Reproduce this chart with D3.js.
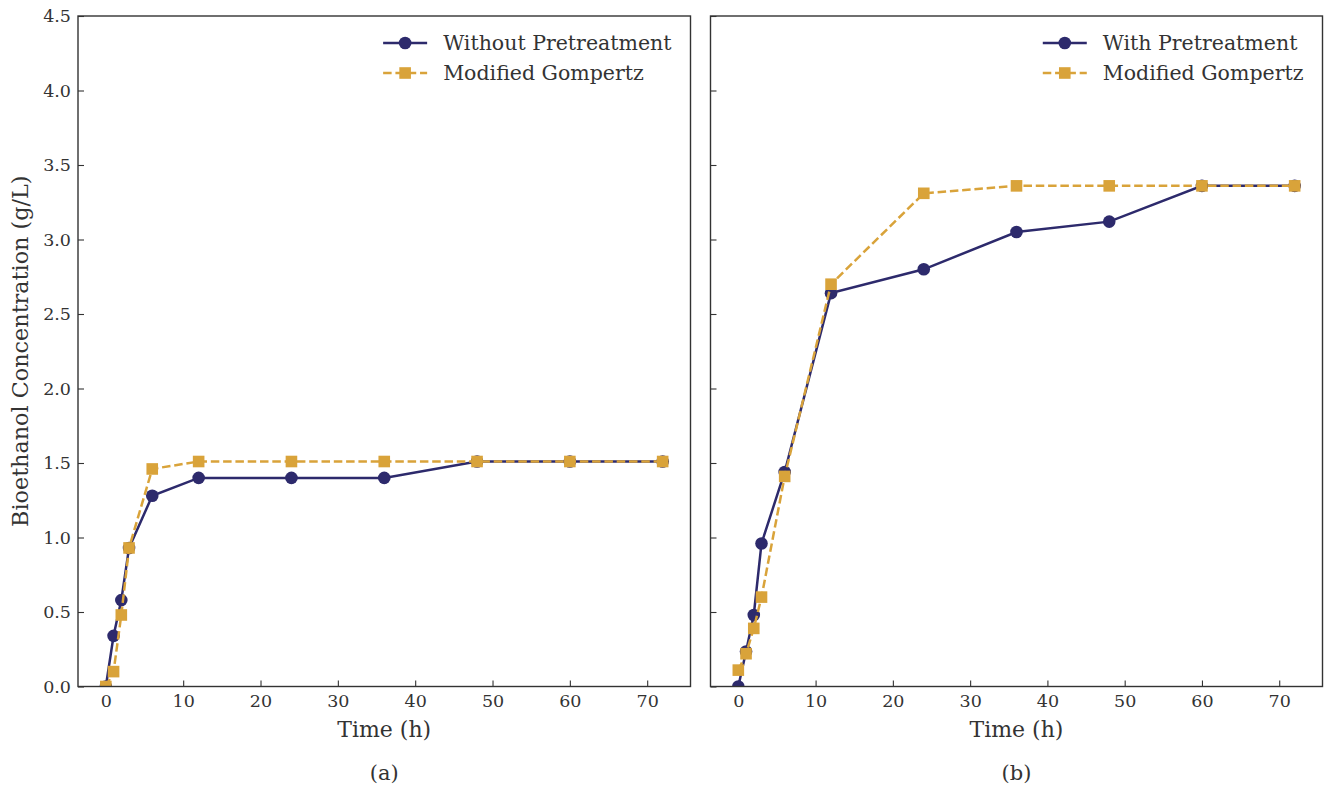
<!DOCTYPE html>
<html>
<head>
<meta charset="utf-8">
<script src="https://cdn.jsdelivr.net/npm/d3@7"></script>
<style>
  body { margin: 0; background: #fff; }
  text { font-family: "DejaVu Serif", serif; }
</style>
</head>
<body>
<svg id="chart" width="1333" height="793"></svg>
<script>
// sampling times (h)
var times = [0, 1, 2, 3, 6, 12, 24, 36, 48, 60, 72];

// panel (a)
var withoutPre = [0, 0.34, 0.58, 0.93, 1.28, 1.40, 1.40, 1.40, 1.51, 1.51, 1.51];
var gompertzA = [0, 0.10, 0.48, 0.93, 1.46, 1.51, 1.51, 1.51, 1.51, 1.51, 1.51];

// panel (b)
var withPre = [0, 0.235, 0.48, 0.96, 1.44, 2.64, 2.80, 3.05, 3.12, 3.36, 3.36];
var gompertzB = [0.11, 0.22, 0.39, 0.60, 1.41, 2.70, 3.31, 3.36, 3.36, 3.36, 3.36];

var xTicks = [0, 10, 20, 30, 40, 50, 60, 70];
var yTicks = [0, 0.5, 1.0, 1.5, 2.0, 2.5, 3.0, 3.5, 4.0, 4.5];

var navy = "#2d2a6c";
var gold = "#d9a33a";

var svg = d3.select("#chart");
var yTop = 16, yBot = 686.5;

var y = d3.scaleLinear().domain([0, 4.5]).range([yBot, yTop]);

var panels = [
  {left: 78, right: 690.5, label: "(a)", name: "Without Pretreatment", obs: withoutPre, fit: gompertzA, yLabels: true},
  {left: 710.5, right: 1322.5, label: "(b)", name: "With Pretreatment", obs: withPre, fit: gompertzB, yLabels: false}
];

panels.forEach(function(p, i) {
    var x = d3.scaleLinear().domain([-3.6, 75.6]).range([p.left, p.right]);
    var g = svg.append("g");

    g.append("clipPath").attr("id", "clip" + i)
      .append("rect")
      .attr("x", p.left).attr("y", yTop)
      .attr("width", p.right - p.left).attr("height", yBot - yTop);

    // x axis, ticks pointing inward
    var xAxis = d3.axisBottom(x).tickValues(xTicks).tickSizeInner(-6).tickSizeOuter(0).tickPadding(8);
    var gx = g.append("g").attr("transform", "translate(0," + yBot + ")").call(xAxis);
    gx.select(".domain").remove();
    gx.selectAll("line").attr("stroke", "#333").attr("stroke-width", 1.1);
    gx.selectAll("text").attr("font-size", 17.5).attr("fill", "#333").attr("font-family", "DejaVu Serif");

    var yAxis = d3.axisLeft(y).tickValues(yTicks).tickSizeInner(-6).tickSizeOuter(0).tickPadding(7)
      .tickFormat(p.yLabels ? d3.format(".1f") : "");
    var gy = g.append("g").attr("transform", "translate(" + p.left + ",0)").call(yAxis);
    gy.select(".domain").remove();
    gy.selectAll("line").attr("stroke", "#333").attr("stroke-width", 1.1);
    gy.selectAll("text").attr("font-size", 17.5).attr("fill", "#333").attr("font-family", "DejaVu Serif");

    var plot = g.append("g").attr("clip-path", "url(#clip" + i + ")");
    var line = d3.line().x(function(d, j) { return x(times[j]); }).y(function(d) { return y(d); });

    plot.append("path").datum(p.obs)
      .attr("d", line).attr("fill", "none")
      .attr("stroke", navy).attr("stroke-width", 2.5);
    plot.selectAll(".dot").data(p.obs).enter().append("circle")
      .attr("cx", function(d, j) { return x(times[j]); })
      .attr("cy", function(d) { return y(d); })
      .attr("r", 6.3).attr("fill", navy);

    plot.append("path").datum(p.fit)
      .attr("d", line).attr("fill", "none")
      .attr("stroke", gold).attr("stroke-width", 2.5)
      .attr("stroke-dasharray", "8.5,3.8");
    plot.selectAll(".sq").data(p.fit).enter().append("rect")
      .attr("x", function(d, j) { return x(times[j]) - 5.8; })
      .attr("y", function(d) { return y(d) - 5.8; })
      .attr("width", 11.6).attr("height", 11.6).attr("fill", gold);

    // frame
    g.append("rect")
      .attr("x", p.left).attr("y", yTop)
      .attr("width", p.right - p.left).attr("height", yBot - yTop)
      .attr("fill", "none").attr("stroke", "#333").attr("stroke-width", 1.4);

    // legend, right aligned
    var items = [
      {name: p.name, color: navy, dash: null, shape: "circle"},
      {name: "Modified Gompertz", color: gold, dash: "8.5,3.8", shape: "square"}
    ];
    var lg = g.append("g");
    var labels = items.map(function(it, k) {
        return lg.append("text").attr("y", 43 + k * 30).attr("dy", "0.35em")
          .attr("font-size", 20.5).attr("fill", "#333").text(it.name);
    });
    var maxW = d3.max(labels, function(t) { return t.node().getComputedTextLength(); });
    var lx = p.right - 19 - maxW - 60;
    items.forEach(function(it, k) {
        var ly = 43 + k * 30;
        labels[k].attr("x", lx + 60);
        lg.append("line").attr("x1", lx).attr("x2", lx + 44).attr("y1", ly).attr("y2", ly)
          .attr("stroke", it.color).attr("stroke-width", 2.5).attr("stroke-dasharray", it.dash);
        if (it.shape == "circle") {
            lg.append("circle").attr("cx", lx + 22).attr("cy", ly).attr("r", 6.3).attr("fill", it.color);
        } else {
            lg.append("rect").attr("x", lx + 16.2).attr("y", ly - 5.8).attr("width", 11.6).attr("height", 11.6).attr("fill", it.color);
        }
    });

    var cx = (p.left + p.right) / 2;
    g.append("text").attr("x", cx).attr("y", 737).attr("text-anchor", "middle")
      .attr("font-size", 22).attr("fill", "#333").text("Time (h)");
    g.append("text").attr("x", cx).attr("y", 780).attr("text-anchor", "middle")
      .attr("font-size", 21).attr("fill", "#333").text(p.label);
});

svg.append("text")
  .attr("transform", "translate(28," + (yTop + yBot) / 2 + ") rotate(-90)")
  .attr("text-anchor", "middle").attr("font-size", 22.3).attr("fill", "#333")
  .text("Bioethanol Concentration (g/L)");
</script>
</body>
</html>
